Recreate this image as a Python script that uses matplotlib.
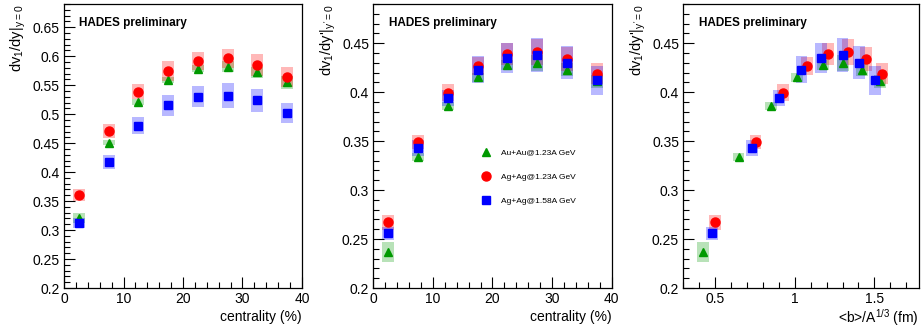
import numpy as np
import matplotlib.pyplot as plt
from matplotlib.ticker import MultipleLocator, FuncFormatter
from matplotlib.lines import Line2D

plt.rcParams['font.family'] = ['Liberation Sans', 'DejaVu Sans']
plt.rcParams['mathtext.default'] = 'regular'

# Data
centrality = [2.5, 7.5, 12.5, 17.5, 22.5, 27.5, 32.5, 37.5]
series_labels = ['Au+Au@1.23A GeV', 'Ag+Ag@1.23A GeV', 'Ag+Ag@1.58A GeV']

# left panel: dv1/dy at y=0 vs centrality
auau_dy = [0.321, 0.451, 0.521, 0.559, 0.578, 0.582, 0.572, 0.555]
auau_dy_sys = [0.009, 0.005, 0.0055, 0.005, 0.006, 0.009, 0.009, 0.011]
ag123_dy = [0.360, 0.471, 0.539, 0.575, 0.592, 0.596, 0.585, 0.564]
ag123_dy_sys = [0.010, 0.0115, 0.0127, 0.017, 0.016, 0.017, 0.019, 0.018]
ag158_dy = [0.312, 0.417, 0.480, 0.515, 0.530, 0.532, 0.524, 0.502]
ag158_dy_sys = [0.008, 0.012, 0.015, 0.0175, 0.018, 0.022, 0.020, 0.017]

# middle / right panels: dv1/dy' at y'=0
auau_dyp = [0.237, 0.334, 0.386, 0.415, 0.428, 0.430, 0.423, 0.411]
auau_dyp_sys = [0.010, 0.004, 0.004, 0.005, 0.005, 0.008, 0.007, 0.007]
ag123_dyp = [0.267, 0.349, 0.3995, 0.427, 0.439, 0.441, 0.434, 0.419]
ag123_dyp_sys = [0.0073, 0.007, 0.009, 0.0094, 0.011, 0.013, 0.012, 0.0106]
ag158_dyp = [0.256, 0.343, 0.394, 0.423, 0.435, 0.438, 0.430, 0.412]
ag158_dyp_sys = [0.0068, 0.0077, 0.0085, 0.0136, 0.015, 0.0175, 0.0167, 0.0145]

# right panel: <b>/A^(1/3)
auau_b = [0.422, 0.647, 0.853, 1.015, 1.178, 1.302, 1.424, 1.535]
ag123_b = [0.500, 0.754, 0.924, 1.078, 1.208, 1.334, 1.449, 1.546]
ag158_b = [0.481, 0.733, 0.903, 1.042, 1.166, 1.300, 1.401, 1.504]

colors = ['#009900', '#ff0000', '#0000ff']
markers = ['^', 'o', 's']
msizes = [6, 6.5, 6]


def draw(ax, xs, ys, syss, hw):
    # systematic boxes first, then the points
    for x, y, s, c in zip(xs, ys, syss, colors):
        y = np.array(y)
        s = np.array(s)
        ax.bar(x, 2 * s, bottom=y - s, width=2 * hw, color=c, alpha=0.28,
               linewidth=0, zorder=1)
    for x, y, c, m, ms in zip(xs, ys, colors, markers, msizes):
        ax.plot(x, y, ls='none', marker=m, ms=ms, color=c, mec=c, zorder=3)


def style(ax):
    ax.tick_params(which='both', direction='in', top=False, right=False,
                   labelsize=10, width=0.8, pad=3)
    ax.tick_params(which='major', length=8)
    ax.tick_params(which='minor', length=4)
    for sp in ax.spines.values():
        sp.set_linewidth(0.9)
    ax.yaxis.set_major_formatter(FuncFormatter(lambda v, p: '%g' % round(v, 3)))
    ax.xaxis.set_major_formatter(FuncFormatter(lambda v, p: '%g' % round(v, 3)))
    ax.text(0.065, 0.955, 'HADES preliminary', transform=ax.transAxes,
            fontsize=8.5, fontweight='bold', va='top')


fig = plt.figure(figsize=(9.21, 3.32), dpi=100)
ax1 = fig.add_axes([0.0695, 0.1325, 0.2584, 0.8554])
ax2 = fig.add_axes([0.4053, 0.1325, 0.2588, 0.8554])
ax3 = fig.add_axes([0.7419, 0.1325, 0.2559, 0.8554])

draw(ax1, [centrality] * 3, [auau_dy, ag123_dy, ag158_dy],
     [auau_dy_sys, ag123_dy_sys, ag158_dy_sys], 1.0)
draw(ax2, [centrality] * 3, [auau_dyp, ag123_dyp, ag158_dyp],
     [auau_dyp_sys, ag123_dyp_sys, ag158_dyp_sys], 1.0)
draw(ax3, [auau_b, ag123_b, ag158_b], [auau_dyp, ag123_dyp, ag158_dyp],
     [auau_dyp_sys, ag123_dyp_sys, ag158_dyp_sys], 0.037)

for ax in (ax1, ax2):
    ax.set_xlim(0, 40)
    ax.xaxis.set_major_locator(MultipleLocator(10))
    ax.xaxis.set_minor_locator(MultipleLocator(2))
    ax.set_xlabel('centrality (%)', fontsize=10, loc='right', labelpad=3)
ax3.set_xlim(0.3, 1.78)
ax3.xaxis.set_major_locator(MultipleLocator(0.5))
ax3.xaxis.set_minor_locator(MultipleLocator(0.1))
ax3.set_xlabel('<b>/A$^{1/3}$ (fm)', fontsize=10, loc='right', labelpad=1)

ax1.set_ylim(0.2, 0.69)
for ax in (ax2, ax3):
    ax.set_ylim(0.2, 0.49)
for ax in (ax1, ax2, ax3):
    ax.yaxis.set_major_locator(MultipleLocator(0.05))
    ax.yaxis.set_minor_locator(MultipleLocator(0.01))
    style(ax)

ax1.set_ylabel('dv$_1$/dy|$_{y=0}$', fontsize=10.5, loc='top')
ax2.set_ylabel("dv$_1$/dy'|$_{y'=0}$", fontsize=10.5, loc='top')
ax3.set_ylabel("dv$_1$/dy'|$_{y'=0}$", fontsize=10.5, loc='top')
for ax in (ax1, ax2, ax3):
    ax.yaxis.set_label_coords(-0.15, 1.0)

handles = [Line2D([], [], ls='none', marker=m, ms=ms, color=c)
           for m, ms, c in zip(markers, msizes, colors)]
ax2.legend(handles, series_labels, loc='upper left', bbox_to_anchor=(0.445, 0.49),
           frameon=False, fontsize=6, handlelength=1.5, handletextpad=1.05,
           labelspacing=1.95, borderpad=0, borderaxespad=0)

fig.savefig('out.png', dpi=100)
